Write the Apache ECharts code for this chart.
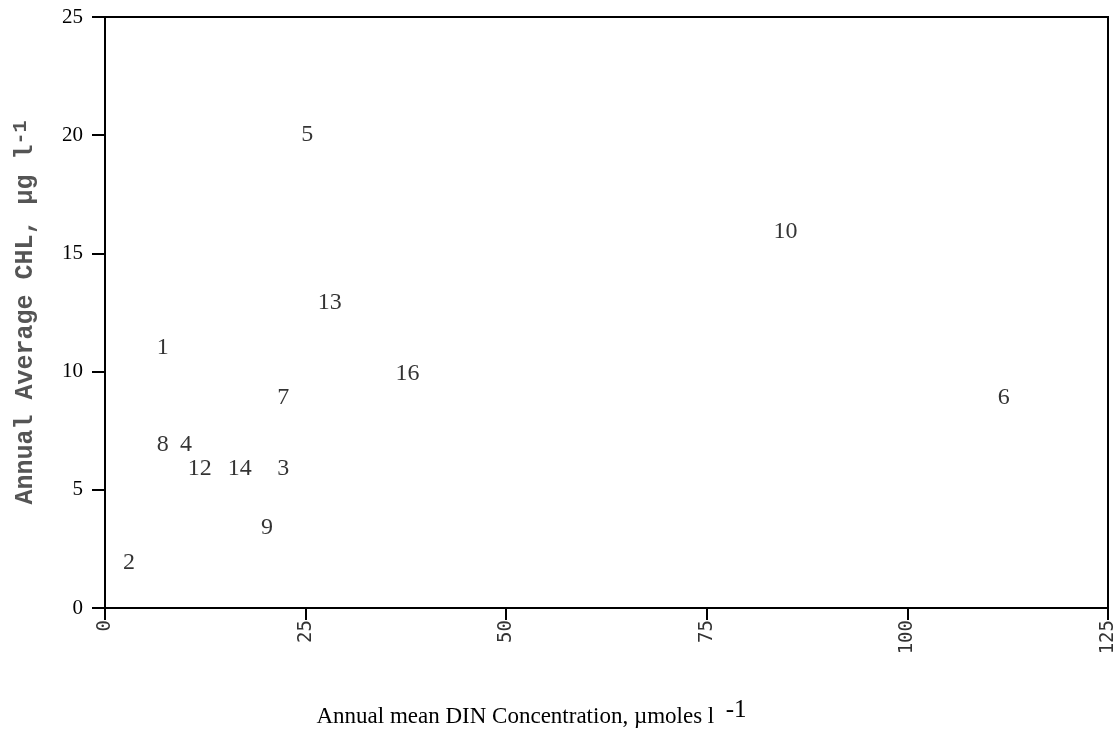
<!DOCTYPE html>
<html>
<head>
<meta charset="utf-8">
<script src="https://cdn.jsdelivr.net/npm/echarts@6/dist/echarts.min.js"></script>
<style>html,body{margin:0;padding:0;background:#fff}#c{width:1119px;height:734px}</style>
</head>
<body>
<div id="c"></div>
<script>
const siteLabels = ['1','16','7','8','4','12','14','3','9','2','5','13','10','6'];
const dinValues  = [7.2, 37.7, 22.2, 7.2, 10.1, 11.8, 16.8, 22.2, 20.2, 3.0, 25.2, 28.0, 84.8, 112.0];
const chlValues  = [11.0, 9.9, 8.9, 6.9, 6.9, 5.9, 5.9, 5.9, 3.4, 1.9, 20.0, 12.9, 15.9, 8.9];
const xTicks = [0, 25, 50, 75, 100, 125];
const yTicks = [0, 5, 10, 15, 20, 25];

const points = siteLabels.map((s, i) => [dinValues[i], chlValues[i], s]);

const chart = echarts.init(document.getElementById('c'));
chart.setOption({
  animation: false,
  backgroundColor: '#fff',
  grid: { left: 105, right: 11, top: 17, bottom: 126, outerBoundsMode: 'none', containLabel: false,
          show: true, borderColor: '#000', borderWidth: 2, backgroundColor: 'transparent' },
  xAxis: {
    type: 'value', min: xTicks[0], max: xTicks[xTicks.length - 1], interval: 25,
    splitLine: { show: false },
    axisLine: { lineStyle: { color: '#000', width: 2 } },
    axisTick: { length: 12, lineStyle: { color: '#000', width: 2 } },
    axisLabel: { rotate: 90, margin: 12, color: '#333', fontFamily: 'DejaVu Sans Mono', fontSize: 19 },
    name: 'Annual mean DIN Concentration, µmoles l  {sup|-1}',
    nameLocation: 'middle', nameGap: 90,
    nameTextStyle: { color: '#000', fontFamily: 'Liberation Serif', fontSize: 23, padding: [0, 150, 0, 0],
      rich: { sup: { fontFamily: 'Liberation Serif', fontSize: 25, color: '#000', verticalAlign: 'bottom', padding: [0, 0, 12, 0] } } }
  },
  yAxis: {
    type: 'value', min: yTicks[0], max: yTicks[yTicks.length - 1], interval: 5,
    splitLine: { show: false },
    axisLine: { lineStyle: { color: '#000', width: 2 } },
    axisTick: { length: 13, lineStyle: { color: '#000', width: 2 } },
    axisLabel: { margin: 22, color: '#000', fontFamily: 'Liberation Serif', fontSize: 21 },
    name: 'Annual Average CHL, µg l{sup|-1}',
    nameLocation: 'middle', nameGap: 64,
    nameTextStyle: { color: '#555', fontFamily: 'Liberation Mono', fontSize: 25, fontWeight: 'bold',
      rich: { sup: { fontFamily: 'Liberation Mono', fontSize: 20, color: '#555', fontWeight: 'bold', verticalAlign: 'bottom', padding: [0, 0, 10, 0] } } }
  },
  series: [{
    type: 'scatter',
    data: points,
    symbolSize: 0,
    itemStyle: { color: '#000' },
    label: {
      show: true, position: 'inside',
      formatter: p => p.value[2],
      color: '#000', textBorderWidth: 0, fontFamily: 'Liberation Serif', fontSize: 24
    }
  }]
});
</script>
</body>
</html>
